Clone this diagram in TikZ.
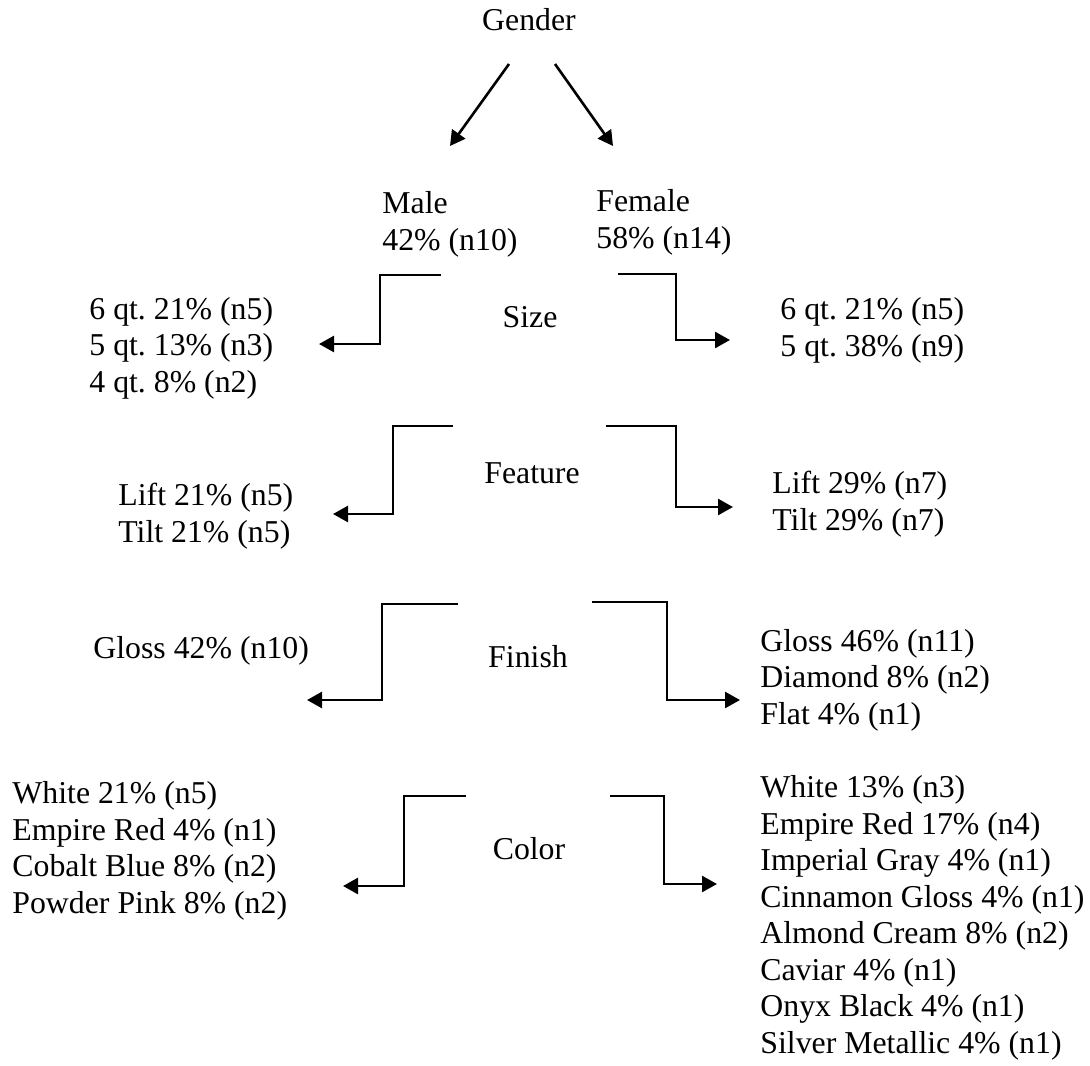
\documentclass[tikz,border=0pt]{standalone}
\usepackage{fontspec}
\setmainfont{Liberation Serif}
\usetikzlibrary{arrows.meta,positioning}

\begin{document}
\frenchspacing
\begin{tikzpicture}[x=0.5pt, y=-0.5pt,
                    font=\fontsize{15.9}{18.25}\selectfont]
      % styles
      \tikzstyle{label}=[inner sep=0pt,anchor=base]
      \tikzstyle{list}=[inner sep=0pt,anchor=base west,align=left]
      \tikzstyle{arr}=[line width=1.3pt,-{Triangle[length=7.5pt,width=8pt]}]

      \useasboundingbox (0,0) rectangle (1090,1065);

      % nodes (placed at the baseline of their last line)
      \node[label] (gender)  at (529,31)  {Gender};
      \node[list]  (male)    at (382,250) {Male\\42\% (n10)};
      \node[list]  (female)  at (596,248) {Female\\58\% (n14)};

      \node[label] (size)    at (530,327) {Size};
      \node[label] (feature) at (532,483) {Feature};
      \node[label] (finish)  at (528,667) {Finish};
      \node[label] (color)   at (529,859) {Color};

      \node[list] (sizeM) at (89,392)  {6 qt. 21\% (n5)\\5 qt. 13\% (n3)\\4 qt. 8\% (n2)};
      \node[list] (sizeF) at (780,356) {6 qt. 21\% (n5)\\5 qt. 38\% (n9)};
      \node[list] (featM) at (118,542) {Lift 21\% (n5)\\Tilt 21\% (n5)};
      \node[list] (featF) at (772,530) {Lift 29\% (n7)\\Tilt 29\% (n7)};
      \node[list] (finM)  at (93,658)  {Gloss 42\% (n10)};
      \node[list] (finF)  at (760,724) {Gloss 46\% (n11)\\Diamond 8\% (n2)\\Flat 4\% (n1)};
      \node[list] (colM)  at (12,913)  {White 21\% (n5)\\Empire Red 4\% (n1)\\
                                        Cobalt Blue 8\% (n2)\\Powder Pink 8\% (n2)};
      \node[list] (colF)  at (760,1053) {White 13\% (n3)\\Empire Red 17\% (n4)\\
                                        Imperial Gray 4\% (n1)\\Cinnamon Gloss 4\% (n1)\\
                                        Almond Cream 8\% (n2)\\Caviar 4\% (n1)\\
                                        Onyx Black 4\% (n1)\\Silver Metallic 4\% (n1)};

      % arrow ends
      \coordinate (gM1) at (509,64);  \coordinate (gM2) at (450,146);
      \coordinate (gF1) at (555,64);  \coordinate (gF2) at (613,146);
      \coordinate (sM1) at (441,275); \coordinate (sM2) at (319,344);
      \coordinate (sF1) at (618,274); \coordinate (sF2) at (730,340);
      \coordinate (eM1) at (453,426); \coordinate (eM2) at (333,514);
      \coordinate (eF1) at (606,426); \coordinate (eF2) at (733,507);
      \coordinate (fM1) at (458,604); \coordinate (fM2) at (307,700);
      \coordinate (fF1) at (592,602); \coordinate (fF2) at (740,700);
      \coordinate (cM1) at (466,796); \coordinate (cM2) at (343,886);
      \coordinate (cF1) at (610,796); \coordinate (cF2) at (717,884);

      % arrows
      \draw[arr] (gM1) -- (gM2);
      \draw[arr] (gF1) -- (gF2);
      \draw[arr] (sM1) -- ++(-61,0) |- (sM2);
      \draw[arr] (sF1) -- ++(58,0)  |- (sF2);
      \draw[arr] (eM1) -- ++(-60,0) |- (eM2);
      \draw[arr] (eF1) -- ++(70,0)  |- (eF2);
      \draw[arr] (fM1) -- ++(-76,0) |- (fM2);
      \draw[arr] (fF1) -- ++(75,0)  |- (fF2);
      \draw[arr] (cM1) -- ++(-62,0) |- (cM2);
      \draw[arr] (cF1) -- ++(54,0)  |- (cF2);
    \end{tikzpicture}
\end{document}
